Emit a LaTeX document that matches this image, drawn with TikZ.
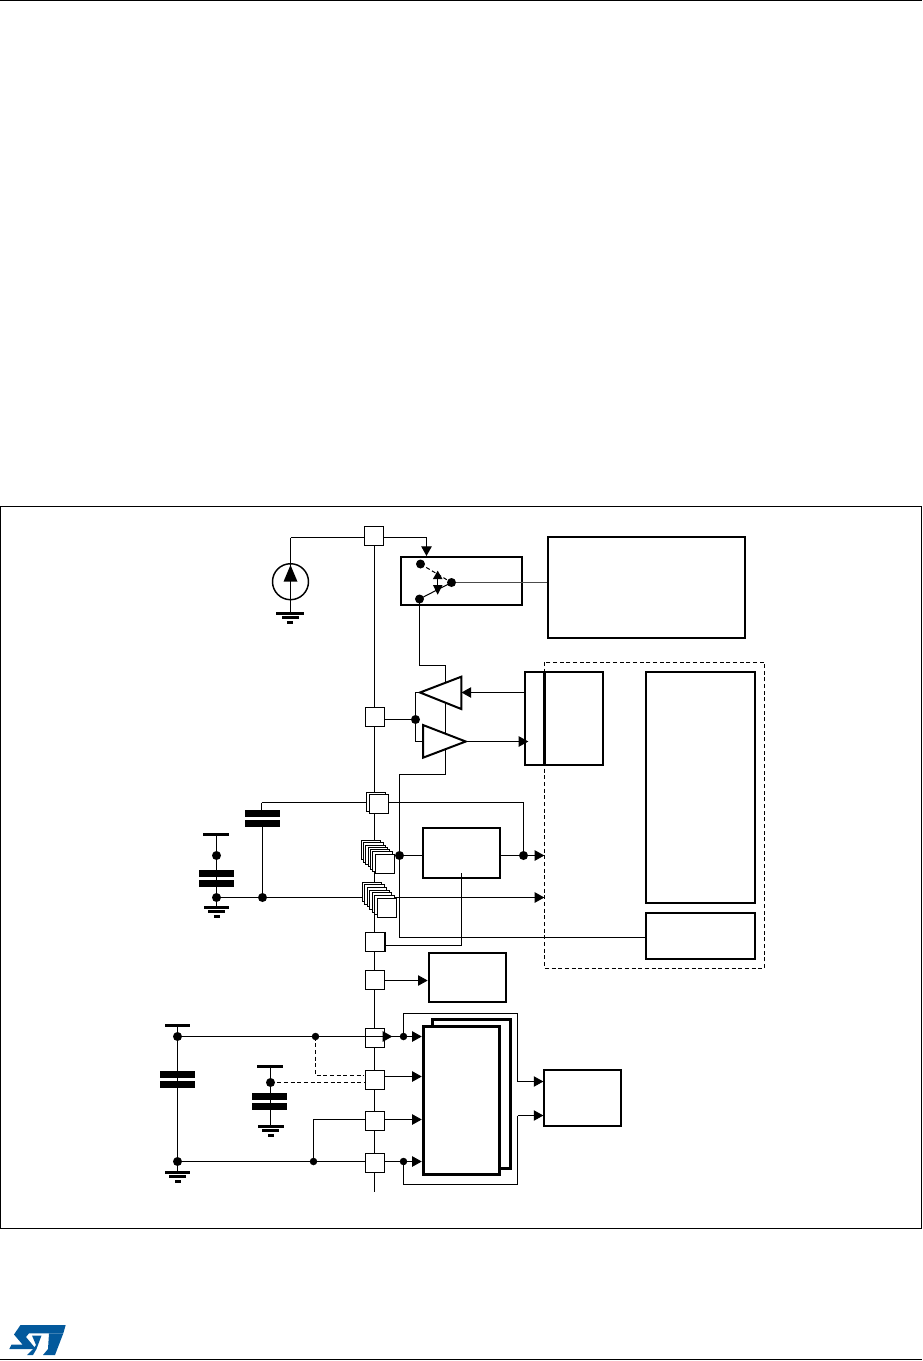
\documentclass[tikz,border=0pt]{standalone}
\usepackage{xcolor}
\usetikzlibrary{arrows.meta, positioning, calc}
\definecolor{stblue}{HTML}{03599C}
\def\px{0.75pt}

\begin{document}
\begin{tikzpicture}[
  x=0.75pt, y=-0.75pt,
  wire/.style={line width=0.75pt, black},
  arr/.style={wire, -{Triangle[length=7.2pt, width=7.8pt]}},
  dashwire/.style={wire, dash pattern=on 3pt off 2pt},
  padbox/.style={draw, fill=white, line width=0.75pt, minimum size=14.5pt, inner sep=0pt},
  blockbox/.style={draw, fill=white, line width=1.5pt, inner sep=0pt},
  heavybox/.style={draw, fill=white, line width=2.3pt, inner sep=0pt},
  amp/.style={draw, fill=white, line width=1.5pt},
  dot/.style={circle, fill=black, inner sep=0pt, minimum size=#1*\px},
  dot/.default=9,
  pics/gnd/.style={code={
    \fill (-#1,-1.5) rectangle (#1,1.5);
    \fill (-8.5,2.5) rectangle (8.5,5.5);
    \fill (-3,7.5) rectangle (3,10.5);
  }},
  pics/plates/.style={code={
    \fill (-17.5,-8.5) rectangle (17.5,-1.5);
    \fill (-17.5,1.5) rectangle (17.5,8.5);
  }},
]
\useasboundingbox (0,0) rectangle (922,1361);

% Page rules and frame
\draw[wire] (0,0.5) -- (922,0.5);
\draw[wire] (0,1359.5) -- (922,1359.5);
\draw[line width=0.6pt] (0.5,506.5) rectangle (921.5,1228);

% Logo
\fill[stblue] (20.5,1325) -- (65.7,1325) -- (63.3,1333.3) -- (29,1333.3) -- (26,1337) -- (36,1349) -- (9.3,1349) -- (11.5,1344.5) -- (22.5,1344.5) -- (14,1334.5) -- cycle;
\fill[stblue] (32,1335.5) -- (41.5,1335.5) -- (36.5,1349) -- (33,1355) -- (27,1355) -- (33,1349) -- (36,1345) -- cycle;
\fill[stblue] (49,1333.3) -- (63.3,1333.3) -- (55,1355) -- (43,1355) -- (48,1349) -- cycle;

% Named points
\coordinate (srcbend) at (290.5,537.5);
\coordinate (swbend) at (426.5,537.5);
\coordinate (ampbend) at (419.5,665.5);
\coordinate (ampbendb) at (445.5,665.5);
\coordinate (enbend) at (445.5,774.5);
\coordinate (enbendb) at (399.5,774.5);
\coordinate (enend) at (399.5,937.5);
\coordinate (ampin) at (420,692.5);
\coordinate (ampout) at (423,741.5);
\coordinate (ampoutb) at (465.7,741.5);
\coordinate (vddbend) at (261.5,802.5);
\coordinate (vddbendb) at (523.5,802.5);
\coordinate (adcbend) at (461.5,945.5);
\coordinate (dashbend) at (315.5,1075.5);
\coordinate (lowbend) at (313.5,1119.5);
\coordinate (loopa) at (403.5,1013.5);
\coordinate (loopb) at (517.5,1013.5);
\coordinate (loopc) at (517.5,1081.5);
\coordinate (loopd) at (403.5,1184.5);
\coordinate (loope) at (517.5,1184.5);
\coordinate (loopf) at (517.5,1115.5);
\coordinate (bustop) at (374.5,535);
\coordinate (busend) at (374.5,1191.7);

% Junctions
\coordinate (jampio) at (415.5,719.5);
\coordinate (jadc) at (399.5,855.5);
\coordinate (jout) at (523.5,855.5);
\coordinate (jcapa) at (262.5,897.5);
\coordinate (jcapb) at (216.5,897.5);
\coordinate (jcapc) at (216.5,855.5);
\coordinate (jvcca) at (177.5,1036.5);
\coordinate (jvccb) at (315.5,1036.5);
\coordinate (jvccc) at (403.5,1036.5);
\coordinate (jvcap) at (270.5,1082.5);
\coordinate (jssa) at (177.5,1161.5);
\coordinate (jssb) at (313.5,1161.5);
\coordinate (jssc) at (403.5,1161.5);
\coordinate (jswa) at (420.5,564);
\coordinate (jswb) at (419.5,599);
\coordinate (jswc) at (451.5,582.5);

% Blocks
\node[blockbox, minimum width=121*\px, minimum height=48*\px] (switchbox) at (461.7,581) {};
\node[blockbox, minimum width=197*\px, minimum height=101*\px] (ctrlbox) at (646.5,587.5) {};
\node[blockbox, minimum width=78*\px, minimum height=93*\px] (iobox) at (563.6,718.5) {};
\node[blockbox, minimum width=109*\px, minimum height=231*\px] (membox) at (700.5,787.5) {};
\node[blockbox, minimum width=109*\px, minimum height=46*\px] (regbox) at (700.5,936) {};
\node[blockbox, minimum width=77.6*\px, minimum height=50.3*\px] (adcbox) at (461.5,852.8) {};
\node[blockbox, minimum width=77.3*\px, minimum height=49*\px] (tempbox) at (467.3,977.3) {};
\node[blockbox, minimum width=76.7*\px, minimum height=55.7*\px] (pllbox) at (582.7,1098.2) {};
\node[heavybox, minimum width=78.3*\px, minimum height=148.7*\px] (bankb) at (471.8,1094.3) {};
\node[heavybox, minimum width=76.4*\px, minimum height=148.3*\px] (banka) at (461.5,1100.2) {};
\draw[line width=2.2pt] (iobox.north -| 544.7,0) -- (iobox.south -| 544.7,0);
\draw[wire, dash pattern=on 3pt off 2pt] (544.5,662) rectangle (764.5,968.3);

% Power bus and left side
\draw[wire] (bustop) -- (busend);
\draw[wire] (jvcca) -- (jvccb) -- (370,1036.5);
\draw[wire] (jssa) -- (jssc);
\draw[arr] (jvccc) -- (banka.west |- jvccc);
\draw[arr] (jssc) -- (banka.west |- jssc);
\draw[wire] (jcapb) -- (jcapa);
\draw[arr] (jcapa) -- (544.3,897.5);
\draw[wire] (jssb -| lowbend) -- (lowbend) -- (374.3,1119.5);
\draw[dashwire] (jvccb) -- (dashbend) -- (363.3,1075.5);
\draw[dashwire] (jvcap) -- (365.3,1082.5);
\draw[wire] (jvccc) -- (loopa) -- (loopb) -- (loopc);
\draw[wire] (jssc) -- (loopd) -- (loope) -- (loopf);
\draw[arr] (loopc) -- (pllbox.west |- loopc);
\draw[arr] (loopf) -- (pllbox.west |- loopf);

% Sources and capacitors
\node[draw, circle, fill=white, line width=1.1pt, minimum size=36*\px, inner sep=0pt] (srccircle) at (290.5,581.7) {};
\draw[wire] (srcbend) -- (290.5,613.3);
\fill (290.5,565) -- (297.5,581.7) -- (283.5,581.7) -- cycle;
\path (290.3,613.5) pic {gnd=14};
\draw[wire] (vddbend) -- (261.5,810) (262.5,827) -- (262.5,897.5);
\path (262.5,818.5) pic {plates};
\draw[wire] (216.5,834.3) -- (216.5,907.3);
\fill (203,833) rectangle (229,835.7);
\path (216,878.5) pic {plates};
\path (216.5,907.5) pic {gnd=12.5};
\draw[wire] (177.5,1025.3) -- (177.5,1172.3);
\fill (165,1024) rectangle (190,1026.7);
\path (177.5,1079.5) pic {plates};
\path (177.5,1172.5) pic {gnd=12.5};
\draw[wire] (270.5,1066.3) -- (270.5,1126.7);
\fill (257,1065) rectangle (283,1067.7);
\path (269.5,1101.7) pic {plates};
\path (270.5,1126.5) pic {gnd=13};

% Switch
\draw[dashwire] (jswa) -- (jswc);
\draw[wire] (jswb) -- (jswc);
\draw[line width=0.9pt, black!70] (jswc) -- (ctrlbox.west |- jswc);
\draw[wire] (437.7,579) -- (437.7,585);
\fill (437.7,570.7) -- (442.5,579) -- (432.9,579) -- cycle;
\fill (437.7,594.7) -- (442.5,585) -- (432.9,585) -- cycle;
\draw[wire] (srcbend) -- (swbend);
\draw[arr] (swbend) -- (swbend |- switchbox.north);

% Enable path and amplifiers
\draw[wire] (jswb) -- (ampbend) -- (ampbendb) -- (enbend) -- (enbendb) -- (enend) -- (regbox.west |- enend);
\draw[wire] (ampin) -- (ampin -| jampio) -- (ampout -| jampio) -- (ampout);
\draw[amp] (ampin) -- (461.3,676.7) -- (461.3,709) -- cycle;
\draw[amp] (ampoutb) -- (423,725) -- (423,757.7) -- cycle;
\draw[arr] (iobox.west |- ampin) -- (461.5,692.5);
\draw[arr] (ampoutb) -- (528.3,741.5);

% Right side wires
\draw[wire] (jadc) -- (adcbox.west |- jadc);
\draw[wire] (adcbox.east |- jout) -- (jout);
\draw[arr] (jout) -- (544.3,855.5);
\draw[wire] (vddbend) -- (vddbendb) -- (jout);
\draw[wire] (384.7,945.5) -- (adcbend) -- (461.5,873.3);
\draw[arr] (375,980.5) -- (tempbox.west |- 375,980.5);
\draw[arr] (375,1076.5) -- (banka.west |- 375,1076.5);
\draw[arr] (375,1119.5) -- (banka.west |- 375,1119.5);

% Pads
\node[padbox] (padtop) at (374,535.8) {};
\node[padbox] (padio) at (375.2,716.8) {};
\draw[wire] (padio.east |- jampio) -- (jampio);
\node[padbox] (padvdda) at (376,802) {};
\node[padbox] (padvddb) at (379,803.8) {};
\foreach \i in {0,...,6} {
  \node[padbox] (stacka\i) at ({371+2.33*\i},{850+2.33*\i}) {};
  \node[padbox] (stackb\i) at ({372+2.5*\i},{892+2.62*\i}) {};
}
\node[padbox] (paden) at (375,942) {};
\draw[line width=1.3pt] (paden.north east) -- (paden.south east);
\node[padbox] (padtemp) at (375,980) {};
\node[padbox] (padvcc) at (375,1038) {};
\draw[arr] (padvcc.west |- jvcca) -- (392.3,1036.5);
\draw[wire] (392,1036.5) -- (jvccc);
\node[padbox] (padvcap) at (375,1080) {};
\node[padbox] (padvss) at (375,1121) {};
\node[padbox] (padgnd) at (375,1163) {};
\draw[wire] (stacka6.east |- jadc) -- (jadc);

% Dots on top
\foreach \n in {jampio,jadc,jout,jcapa,jcapb,jcapc,jvcca,jvcap,jssa,jswa,jswb,jswc}
  \node[dot] at (\n) {};
\foreach \n in {jvccb,jvccc,jssb,jssc}
  \node[dot=7.5] at (\n) {};
\end{tikzpicture}
\end{document}
